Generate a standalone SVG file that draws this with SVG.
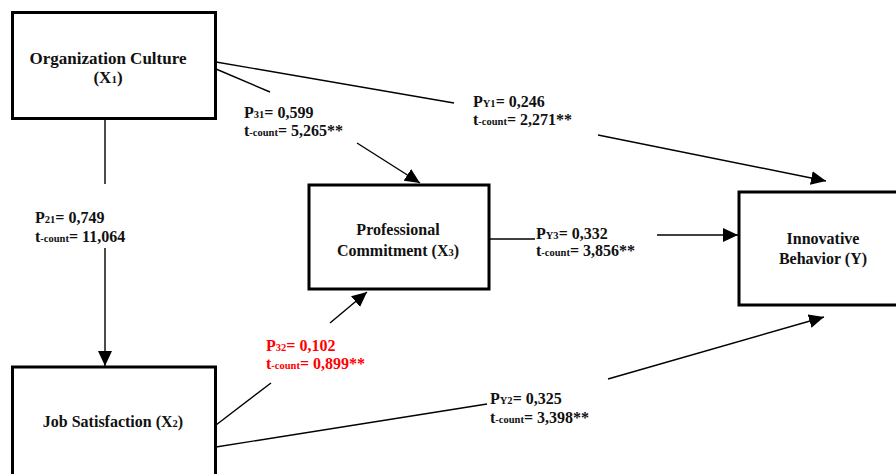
<svg xmlns="http://www.w3.org/2000/svg" width="896" height="474" viewBox="0 0 896 474">
<style>
.box{fill:#fff;stroke:#000;stroke-width:3}
.ln{stroke:#000;stroke-width:1.4;fill:none}
.arr{stroke:#000;stroke-width:1.4;fill:none;marker-end:url(#ah)}
.nt{font-family:"Liberation Serif","Times New Roman",serif;font-weight:bold;font-size:16px;fill:#111;text-anchor:middle}
.lb{font-family:"Liberation Serif","Times New Roman",serif;font-weight:bold;font-size:16px;fill:#111}
.red{fill:#ff0000}
.sub{font-size:10.5px}
</style>
<defs>
<marker id="ah" markerUnits="userSpaceOnUse" markerWidth="16" markerHeight="15" refX="15" refY="7" orient="auto">
<path d="M0,0 L15,7 L0,14 z" fill="#000"/>
</marker>
</defs>
<rect width="896" height="474" fill="#fff"/>
<g id="connectors">
<line class="ln" x1="105" y1="119" x2="105" y2="184"/>
<line class="arr" x1="105" y1="248" x2="105" y2="366"/>
<line class="ln" x1="216" y1="69" x2="270" y2="92"/>
<line class="arr" x1="357" y1="143" x2="420" y2="183"/>
<line class="ln" x1="216" y1="62" x2="454" y2="103"/>
<line class="arr" x1="598" y1="135" x2="826" y2="181"/>
<line class="ln" x1="489" y1="239" x2="535" y2="239"/>
<line class="arr" x1="657" y1="235" x2="738" y2="235"/>
<line class="ln" x1="216" y1="425" x2="271" y2="383"/>
<line class="arr" x1="330" y1="323" x2="367" y2="292"/>
<line class="ln" x1="216" y1="447" x2="487" y2="404"/>
<line class="arr" x1="608" y1="379" x2="824" y2="317"/>
</g>
<g id="labels">
<text class="lb" x="35" y="223">P<tspan class="sub">21</tspan>= 0,749</text>
<text class="lb" x="35" y="242">t<tspan class="sub">-count</tspan>= 11,064</text>
<text class="lb" x="244" y="118">P<tspan class="sub">31</tspan>= 0,599</text>
<text class="lb" x="244" y="136">t<tspan class="sub">-count</tspan>= 5,265**</text>
<text class="lb" x="473" y="107">P<tspan class="sub">Y1</tspan>= 0,246</text>
<text class="lb" x="473" y="125">t<tspan class="sub">-count</tspan>= 2,271**</text>
<text class="lb" x="536" y="239">P<tspan class="sub">Y3</tspan>= 0,332</text>
<text class="lb" x="536" y="256">t<tspan class="sub">-count</tspan>= 3,856**</text>
<text class="lb red" x="266" y="351">P<tspan class="sub">32</tspan>= 0,102</text>
<text class="lb red" x="266" y="369">t<tspan class="sub">-count</tspan>= 0,899**</text>
<text class="lb" x="490" y="404">P<tspan class="sub">Y2</tspan>= 0,325</text>
<text class="lb" x="490" y="423">t<tspan class="sub">-count</tspan>= 3,398**</text>
</g>
<g id="node-x1">
<rect class="box" x="12.5" y="12.5" width="203" height="106"/>
<text class="nt" x="108" y="64" style="font-size:17px">Organization Culture</text>
<text class="nt" x="108" y="83" style="font-size:17px">(X<tspan class="sub" style="font-size:11px">1</tspan>)</text>
</g>
<g id="node-x3">
<rect class="box" x="309" y="185" width="180" height="104"/>
<text class="nt" x="398" y="235">Professional</text>
<text class="nt" x="398" y="256">Commitment (X<tspan class="sub">3</tspan>)</text>
</g>
<g id="node-y">
<rect class="box" x="739" y="192" width="170" height="113"/>
<text class="nt" x="823" y="244">Innovative</text>
<text class="nt" x="823" y="264">Behavior (Y)</text>
</g>
<g id="node-x2">
<rect class="box" x="12.5" y="367" width="203" height="120"/>
<text class="nt" x="113" y="427">Job Satisfaction (X<tspan class="sub">2</tspan>)</text>
</g>
</svg>
